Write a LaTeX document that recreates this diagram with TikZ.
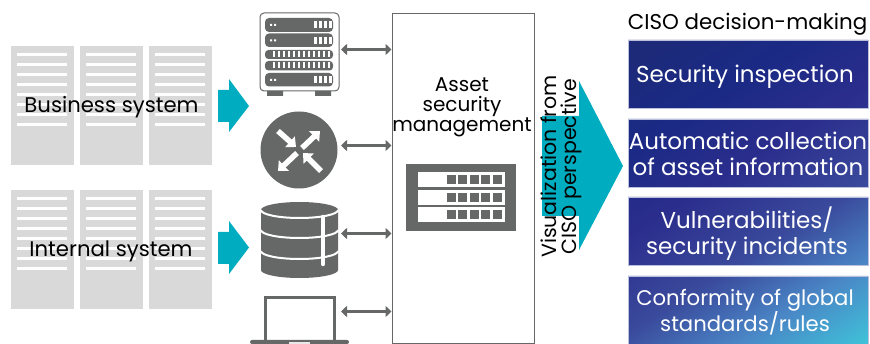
\documentclass[tikz,border=0pt]{standalone}
\usepackage{fontspec}
\setmainfont{Poppins}
\usetikzlibrary{arrows.meta,calc}
\definecolor{icongray}{HTML}{666767}
\definecolor{panelgray}{HTML}{D9D9D9}
\definecolor{flowteal}{HTML}{00ADC0}
\definecolor{cisoa}{HTML}{1F2A72}
\definecolor{cisob}{HTML}{1A2A85}
\definecolor{cisoc}{HTML}{2B2D8C}
\definecolor{cisod}{HTML}{3A4A9C}
\definecolor{cisoe}{HTML}{4A86C6}
\definecolor{cisof}{HTML}{3FC0D8}
\pgfdeclarehorizontalshading{cisoshade}{100bp}{color(0bp)=(cisoa); color(10bp)=(cisoa); color(32bp)=(cisob); color(45bp)=(cisoc); color(60bp)=(cisod); color(72bp)=(cisoe); color(84bp)=(cisof); color(100bp)=(cisof)}
\tikzset{
  textlabel/.style={inner sep=0pt,align=center,font=\fontsize{21.2}{20}\selectfont},
  cisobox/.style={inner sep=0pt,align=center,text=white,font=\fontsize{23}{26}\selectfont},
  link/.style={icongray,line width=3pt,{Triangle[length=6pt,width=11pt]}-{Triangle[length=6pt,width=11pt]}},
  routerarrow/.style={white,line width=5.5pt,-{Triangle[length=8pt,width=14pt]}}
}
\begin{document}
\begin{tikzpicture}[x=1pt,y=-1pt]
\useasboundingbox (0,0) rectangle (870,344);
% system panels
\foreach \panely in {46,190} {
  \foreach \panelx in {11,80,149} {
    \fill[panelgray] (\panelx,\panely) rectangle ++(63,119);
    \foreach \row in {0,...,7}
      \fill[white] ($(\panelx,\panely)+(6,7.5+10*\row)$) rectangle ++(50,3);
  }
}
\node[textlabel] (business) at (111.5,107.5) {Business system};
\node[textlabel] (internal) at (111,251) {Internal system};
% small arrows
\fill[flowteal] (218,90) -- (229,90) -- (229,79) -- (249,106) -- (229,132) -- (229,122) -- (218,122) -- cycle;
\fill[flowteal] (218,232) -- (229,232) -- (229,221) -- (249,247.5) -- (229,274) -- (229,264) -- (218,264) -- cycle;
% server
\draw[icongray,line width=1pt,fill=white,rounded corners=4pt] (260,13) rectangle (339,91);
\fill[icongray] (267,91) rectangle (283,96) (315,91) rectangle (331,96);
\foreach \a/\b in {18/32,33.5/47,73/86.5}
  \fill[icongray,rounded corners=4pt] (265,\a) rectangle (333,\b);
\foreach \a/\b in {50/59,61/70.5}
  \fill[icongray,rounded corners=3.5pt] (265,\a) rectangle (333,\b);
\foreach \y in {25,40.5,80} {
  \fill[white] (270,\y-1) rectangle ++(2,2) (274,\y-1) rectangle ++(2,2);
  \foreach \x in {314,319,324,329}
    \fill[white] (\x,\y-3.5) rectangle ++(3,7);
}
\foreach \y in {54.5,65.5}
  \foreach \x in {273,278,...,328}
    \fill[white] (\x,\y-3) rectangle ++(2.4,6);
% router
\fill[icongray] (299,150) circle (38.5);
\draw[routerarrow] (278,131) -- (296,147);
\draw[routerarrow] (302,148) -- (320,131);
\draw[routerarrow] (297,153) -- (278,171);
\draw[routerarrow] (321,171) -- (303,153);
% database
\fill[icongray] (261,210) arc[start angle=180,end angle=360,x radius=38.5,y radius=8] -- (338,270) arc[start angle=0,end angle=180,x radius=38.5,y radius=8] -- cycle;
\foreach \y in {210,230,251}
  \draw[white,line width=2pt] (261,\y) arc[start angle=180,end angle=0,x radius=38.5,y radius=8];
\draw[white,line width=4.5pt,line cap=round] (323,217) -- (323,264);
% laptop
\draw[icongray,line width=3pt] (265,340) -- (265,298) -- (334.5,298) -- (334.5,340);
\fill[icongray,rounded corners=2pt] (250,344) -- (250,340) -- (349,340) -- (349,344) -- cycle;
\fill[white!85!icongray] (289,342.5) rectangle (310,344);
% management box
\node[draw=icongray,line width=1pt,minimum width=142pt,minimum height=329.5pt,inner sep=0pt] (mgmt) at (463,178.75) {};
\node[textlabel,font=\fontsize{20}{20}\selectfont] (assetlabel) at (462,107) {Asset\\security\\management};
\fill[icongray] (406,164) rectangle (516,231);
\foreach \a in {172,190,207} {
  \fill[white] (418,\a) rectangle (505,\a+15);
  \foreach \x in {447,458,470,481,493}
    \fill[icongray] (\x,\a+3) rectangle ++(9,9);
}
% links
\coordinate (serverlink) at (341,49.5);
\coordinate (routerlink) at (341,145.5);
\coordinate (dblink) at (341,233.5);
\coordinate (laptoplink) at (341,311.5);
\foreach \n in {serverlink,routerlink,dblink,laptoplink}
  \draw[link] (\n) -- (\n -| mgmt.west);
% big arrow
\fill[flowteal] (542,116) -- (579,116) -- (579,81) -- (623,166) -- (579,250) -- (579,216) -- (542,216) -- cycle;
\node[textlabel,rotate=90,font=\fontsize{20.5}{20}\selectfont] (vislabel) at (561,166.5) {Visualization from\\CISO perspective};
% ciso boxes
\begin{scope}
\clip (628,40) rectangle (868,108) (628,119) rectangle (868,187) (628,197) rectangle (868,265) (628,276) rectangle (868,344);
\shade[shading=cisoshade,shading angle=-58] (628,40) rectangle (868,344);
\end{scope}
\foreach \a/\b in {40/108,119/187,197/265,276/344}
  \draw[cisod!35!white,line width=.6pt] (628,\a) rectangle (868,\b);
\node[textlabel,font=\fontsize{21.4}{20}\selectfont] (cisotitle) at (747.5,24) {CISO decision-making};
\node[cisobox] (inspection) at (745,76.5) {Security inspection};
\node[cisobox] (collection) at (748,154) {Automatic collection\\of asset information};
\node[cisobox] (incidents) at (747,233.5) {Vulnerabilities/\\security incidents};
\node[cisobox,font=\fontsize{21.2}{26}\selectfont] (conformity) at (745,312) {Conformity of global\\standards/rules};
\end{tikzpicture}
\end{document}
